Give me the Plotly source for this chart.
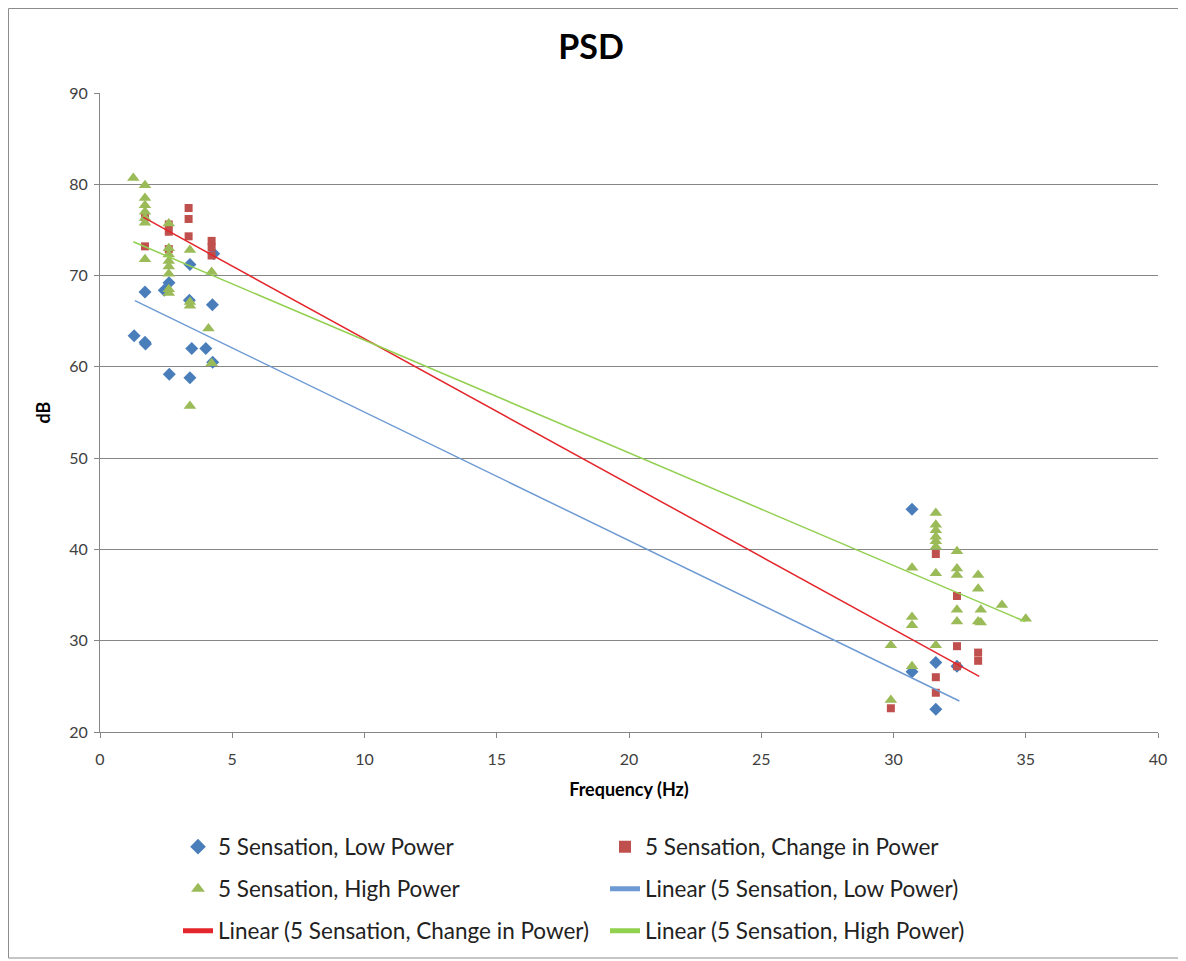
import plotly.graph_objects as go

# ---------------- data ----------------
low_x = [1.29, 1.70, 1.72, 1.70, 2.43, 2.61, 2.62, 3.47, 4.00, 3.40, 3.40, 3.38, 4.25, 4.30, 4.26,
         30.70, 30.70, 31.60, 31.60, 32.40]
low_y = [63.4, 62.7, 62.5, 68.2, 68.4, 69.2, 59.2, 62.0, 62.0, 58.8, 71.2, 67.3, 66.8, 72.4, 60.5,
         44.4, 26.6, 27.6, 22.5, 27.2]

chg_x = [1.70, 1.70, 2.60, 2.60, 2.60, 3.35, 3.35, 3.35, 4.22, 4.22, 4.22,
         31.60, 32.40, 32.40, 32.40, 33.20, 33.20, 31.60, 31.60, 29.90]
chg_y = [76.4, 73.2, 75.6, 74.8, 72.9, 77.4, 76.2, 74.3, 73.8, 73.1, 72.2,
         39.5, 34.9, 29.4, 27.2, 28.7, 27.8, 26.0, 24.3, 22.6]

high_x = [1.26, 1.70, 1.70, 1.70, 1.70, 1.70, 1.70, 1.70,
          2.60, 2.60, 2.60, 2.60, 2.60, 2.60, 2.60, 2.60,
          3.40, 3.40, 3.40, 3.40, 4.22, 4.10, 4.22,
          29.90, 29.90, 30.70, 30.70, 30.70, 30.70,
          31.60, 31.60, 31.60, 31.60, 31.60, 31.60, 31.60, 31.60,
          32.40, 32.40, 32.40, 32.40, 32.40,
          33.20, 33.20, 33.20, 33.30, 33.30, 34.10, 35.00]
high_y = [80.7, 79.9, 78.5, 77.7, 77.0, 76.3, 75.8, 71.8,
          75.7, 73.0, 72.3, 71.6, 71.0, 70.2, 68.5, 68.1,
          72.8, 67.1, 66.7, 55.7, 70.4, 64.2, 60.4,
          29.5, 23.5, 38.0, 32.6, 31.7, 27.2,
          44.0, 42.7, 42.1, 41.4, 40.9, 40.3, 37.4, 29.5,
          39.8, 37.9, 37.2, 33.4, 32.1,
          37.2, 35.7, 32.1, 33.4, 32.0, 33.9, 32.4]

# linear trend line end points (as drawn in the reference)
trend_low_x = [1.32, 32.49]
trend_low_y = [67.25, 23.4]
trend_chg_x = [1.63, 33.24]
trend_chg_y = [76.4, 26.1]
trend_high_x = [1.26, 34.98]
trend_high_y = [73.7, 32.1]

x_ticks = [0, 5, 10, 15, 20, 25, 30, 35, 40]
y_ticks = [20, 30, 40, 50, 60, 70, 80, 90]

# ---------------- styling ----------------
FONT = "Lato, 'Open Sans', sans-serif"
C_LOW = "#4A7EBB"
C_CHG = "#C0504D"
C_HIGH = "#9BBB59"
L_LOW = "#6E9AD3"
L_CHG = "#E3262B"
L_HIGH = "#92D050"

fig = go.Figure()

fig.add_trace(go.Scatter(x=low_x, y=low_y, mode="markers", name="5 Sensation, Low Power",
                         marker=dict(symbol="diamond", size=10, color=C_LOW), legend="legend"))
fig.add_trace(go.Scatter(x=chg_x, y=chg_y, mode="markers", name="5 Sensation, Change in Power",
                         marker=dict(symbol="square", size=8, color=C_CHG), legend="legend"))
fig.add_trace(go.Scatter(x=high_x, y=high_y, mode="markers", name="5 Sensation, High Power",
                         marker=dict(symbol="triangle-up", size=11, color=C_HIGH), legend="legend2"))
fig.add_trace(go.Scatter(x=trend_low_x, y=trend_low_y, mode="lines", name="Linear (5 Sensation, Low Power)",
                         line=dict(color=L_LOW, width=1.5), legend="legend2"))
fig.add_trace(go.Scatter(x=trend_chg_x, y=trend_chg_y, mode="lines", name="Linear (5 Sensation, Change in Power)",
                         line=dict(color=L_CHG, width=1.5), legend="legend3"))
fig.add_trace(go.Scatter(x=trend_high_x, y=trend_high_y, mode="lines", name="Linear (5 Sensation, High Power)",
                         line=dict(color=L_HIGH, width=1.5), legend="legend3"))

OFF = 8  # page offset of the figure inside the browser
W, H = 1186, 961
L, R, T, B = 100 - OFF, W - (1158 - OFF), 93 - OFF, H - (732 - OFF)
pw, ph = W - L - R, H - T - B


def px2x(px):
    return (px - OFF - L) / pw


def py2y(py):
    return (H - B - (py - OFF)) / ph


leg_common = dict(orientation="h", entrywidth=382, entrywidthmode="pixels",
                  font=dict(family=FONT, size=22.5, color="#222222"),
                  bgcolor="rgba(0,0,0,0)", xanchor="left", yanchor="middle",
                  itemsizing="constant", traceorder="normal")

fig.update_layout(
    width=W, height=H,
    margin=dict(l=L, r=R, t=T, b=B),
    paper_bgcolor="white", plot_bgcolor="white",
    title=dict(text="<b>PSD</b>", x=(591 - OFF) / W, xanchor="center", y=1 - (47 - OFF) / H, yanchor="middle",
               font=dict(family=FONT, size=34, color="#000000")),
    xaxis=dict(range=[0, 40], tickvals=x_ticks, showgrid=False, zeroline=False,
               showline=True, linecolor="#868686", linewidth=1,
               ticks="outside", ticklen=5, tickcolor="#868686", ticklabelstandoff=8,
               tickfont=dict(family=FONT, size=16, color="#404040"),
               title=dict(text="<b>Frequency (Hz)</b>", standoff=16,
                          font=dict(family=FONT, size=18, color="#000000"))),
    yaxis=dict(range=[20, 90], tickvals=y_ticks, showgrid=True, gridcolor="#868686", gridwidth=1,
               zeroline=False, showline=True, linecolor="#868686", linewidth=1,
               ticks="outside", ticklen=5, tickcolor="#868686", ticklabelstandoff=3,
               tickfont=dict(family=FONT, size=16, color="#404040"),
               title=dict(text="<b>dB</b>", standoff=13,
                          font=dict(family=FONT, size=18, color="#000000"))),
    legend=dict(x=px2x(178), y=py2y(847), **leg_common),
    legend2=dict(x=px2x(178), y=py2y(889), **leg_common),
    legend3=dict(x=px2x(178), y=py2y(931), **leg_common),
    shapes=[dict(type="rect", xref="paper", yref="paper",
                 x0=px2x(OFF + 0.5), x1=px2x(1183), y0=py2y(958), y1=py2y(OFF + 0.5),
                 line=dict(color="#8C8C8C", width=1), fillcolor="rgba(0,0,0,0)", layer="below")],
)

fig.write_html("out.html")
